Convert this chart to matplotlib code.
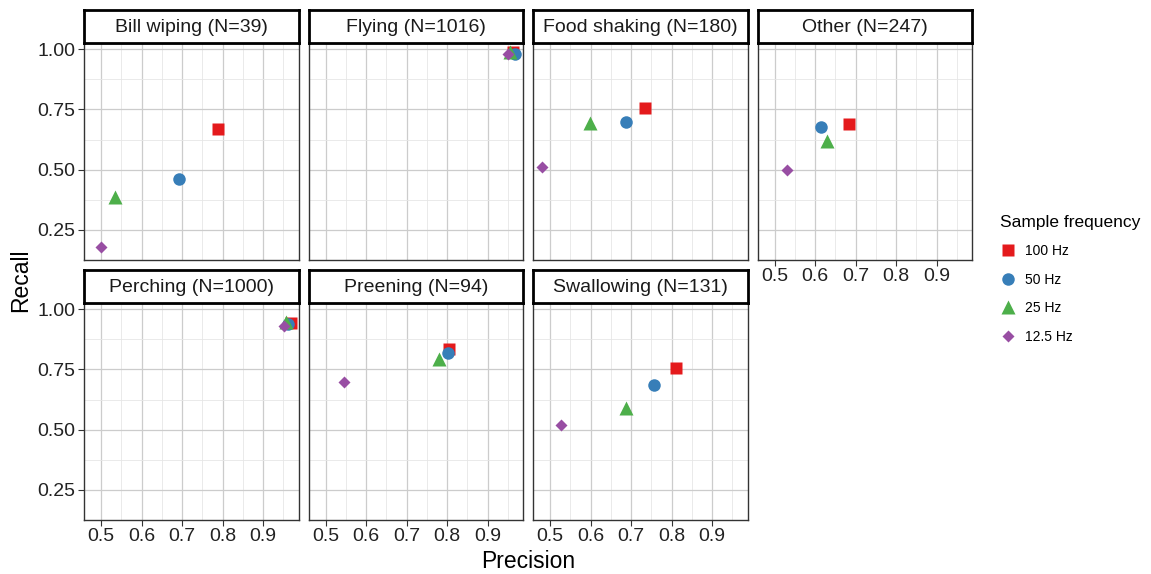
import numpy as np
import matplotlib
matplotlib.use("Agg")
from matplotlib import pyplot as plt
from matplotlib.lines import Line2D

plt.rcParams["font.family"] = ["Liberation Sans", "DejaVu Sans"]

behaviours = ["Bill wiping (N=39)", "Flying (N=1016)", "Food shaking (N=180)", "Other (N=247)",
              "Perching (N=1000)", "Preening (N=94)", "Swallowing (N=131)"]
freqs = ["100 Hz", "50 Hz", "25 Hz", "12.5 Hz"]

# precision / recall per behaviour, one list per sample frequency
precision = {
    "100 Hz":  [0.789, 0.962, 0.735, 0.683, 0.968, 0.804, 0.811],
    "50 Hz":   [0.693, 0.968, 0.688, 0.615, 0.962, 0.803, 0.757],
    "25 Hz":   [0.535, 0.956, 0.599, 0.630, 0.957, 0.779, 0.687],
    "12.5 Hz": [0.500, 0.950, 0.481, 0.531, 0.951, 0.546, 0.527],
}
recall = {
    "100 Hz":  [0.667, 0.990, 0.757, 0.689, 0.943, 0.834, 0.757],
    "50 Hz":   [0.462, 0.980, 0.700, 0.678, 0.940, 0.820, 0.687],
    "25 Hz":   [0.388, 0.990, 0.695, 0.620, 0.948, 0.793, 0.592],
    "12.5 Hz": [0.180, 0.980, 0.510, 0.498, 0.930, 0.700, 0.520],
}

colors = {"100 Hz": "#E41A1C", "50 Hz": "#377EB8", "25 Hz": "#4DAF4A", "12.5 Hz": "#984EA3"}
markers = {"100 Hz": ("s", 8.5), "50 Hz": ("o", 9), "25 Hz": ("^", 10), "12.5 Hz": ("D", 6.3)}

W, H = 1151, 574
fig = plt.figure(figsize=(W / 100, H / 100), dpi=100)

col_left = [84, 308.5, 533, 757.5]
panel_w = 214.5
rows = [(43, 260), (303, 520)]
strip_h = 33


def px_rect(x0, y0, x1, y1):
    return [x0 / W, 1 - y1 / H, (x1 - x0) / W, (y1 - y0) / H]


for i, name in enumerate(behaviours):
    r, c = divmod(i, 4)
    x0 = col_left[c]
    y0, y1 = rows[r]
    ax = fig.add_axes(px_rect(x0, y0, x0 + panel_w, y1))
    ax.set_xlim(0.458, 0.987)
    ax.set_ylim(0.141, 1.026)
    ax.set_xticks([0.5, 0.6, 0.7, 0.8, 0.9])
    ax.set_xticks([0.55, 0.65, 0.75, 0.85, 0.95], minor=True)
    ax.set_yticks([0.25, 0.5, 0.75, 1.0])
    ax.set_yticks([0.125, 0.375, 0.625, 0.875], minor=True)
    ax.grid(which="major", color="#CCCCCC", lw=0.9)
    ax.grid(which="minor", color="#E6E6E6", lw=0.6)
    ax.set_axisbelow(True)
    for sp in ax.spines.values():
        sp.set_color("#333333")
        sp.set_linewidth(1.0)
    ax.tick_params(which="minor", length=0)
    ax.tick_params(which="major", length=4, width=0.8, color="#333333",
                   labelsize=14, labelcolor="#222222", pad=2)
    if c == 0:
        ax.set_yticklabels(["0.25", "0.50", "0.75", "1.00"])
    else:
        ax.tick_params(axis="y", length=0, labelleft=False)
    if r == 1 or c == 3:
        ax.set_xticklabels(["0.5", "0.6", "0.7", "0.8", "0.9"])
    else:
        ax.tick_params(axis="x", length=0, labelbottom=False)

    for f in freqs:
        m, ms = markers[f]
        ax.plot(precision[f][i], recall[f][i], linestyle="none", marker=m, ms=ms,
                color=colors[f], mec="none")

    # facet strip
    sax = fig.add_axes(px_rect(x0, y0 - strip_h, x0 + panel_w, y0))
    sax.set_xticks([])
    sax.set_yticks([])
    for sp in sax.spines.values():
        sp.set_color("black")
        sp.set_linewidth(2.0)
    sax.text(0.5, 0.48, name, ha="center", va="center", fontsize=14, color="#1A1A1A",
             transform=sax.transAxes)

fig.text(528 / W, 1 - 562 / H, "Precision", ha="center", va="center", fontsize=16.5)
fig.text(21 / W, 1 - 280 / H, "Recall", ha="center", va="center", fontsize=16.5, rotation=90)

handles = [Line2D([], [], linestyle="none", marker=markers[f][0], ms=markers[f][1],
                  color=colors[f], mec="none") for f in freqs]
leg = fig.legend(handles, freqs, loc="upper left", bbox_to_anchor=(994 / W, 1 - 209 / H),
                 frameon=False, fontsize=10, title="Sample frequency", title_fontsize=12.5,
                 alignment="left", labelspacing=1.05, handletextpad=0.6, handlelength=1.2,
                 borderaxespad=0)

fig.savefig("out.png", dpi=100)
